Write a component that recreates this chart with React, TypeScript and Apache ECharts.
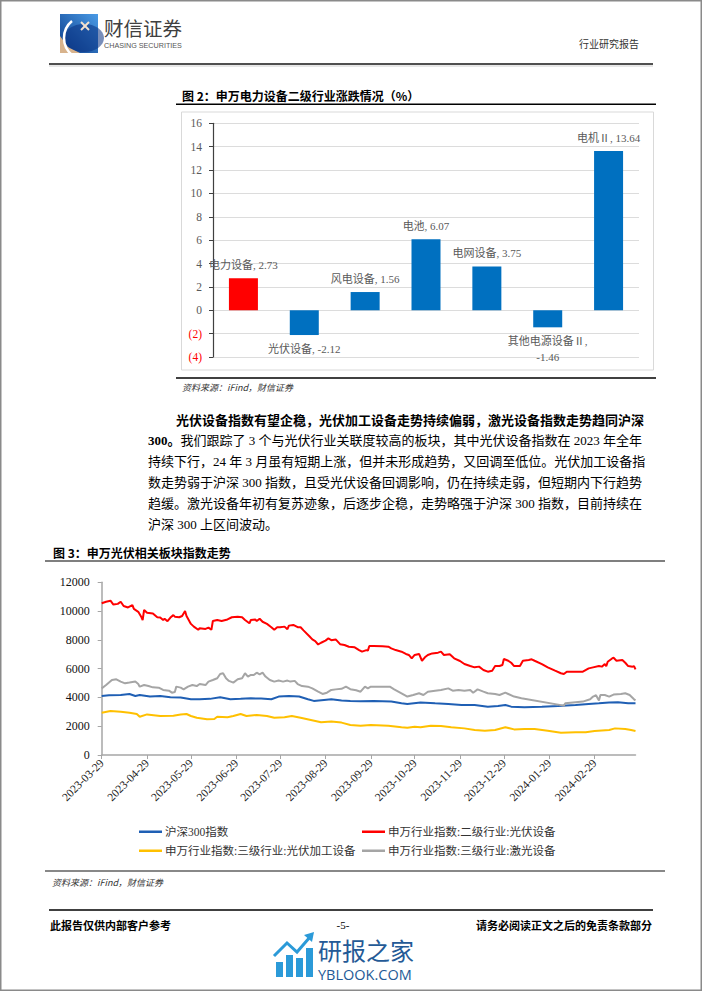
import React, { useEffect, useRef } from 'react';
import * as echarts from 'echarts';

const SERIF = "'Liberation Serif', 'Noto Sans CJK SC', serif";
const CJK = "'Noto Sans CJK SC', sans-serif";

// ---------- Figure 2 data ----------
const barCategories = ['电力设备', '光伏设备', '风电设备', '电池', '电网设备', '其他电源设备Ⅱ', '电机Ⅱ'];
const barValues = [2.73, -2.12, 1.56, 6.07, 3.75, -1.46, 13.64];
const barColors = ['#ff0000', '#0070c0', '#0070c0', '#0070c0', '#0070c0', '#0070c0', '#0070c0'];
const barAxisMin = -4;
const barAxisMax = 16;
const barAxisStep = 2;

// ---------- Figure 3 data ----------
const lineNames = [
  '沪深300指数',
  '申万行业指数:二级行业:光伏设备',
  '申万行业指数:三级行业:光伏加工设备',
  '申万行业指数:三级行业:激光设备',
];
const lineColors = ['#1f5fb4', '#ff0000', '#ffc000', '#a5a5a5'];
const dateStartUTC = Date.UTC(2023, 2, 29); // 2023-03-29
const dayCount = 366; // through 2024-03-28
const lineAxisMax = 12000;
const lineAxisStep = 2000;

// [day offset from 2023-03-29, index value]
const hs300: [number, number][] = [
  [0, 4100], [5, 4150], [13, 4170], [19, 4240], [23, 4100], [26, 4170], [33, 4060], [40, 4100], [47, 4010],
  [54, 3990], [61, 3870], [67, 3870], [74, 3900], [81, 4010], [88, 3870], [95, 3900], [102, 3940], [109, 3920],
  [116, 3870], [121, 4060], [128, 4100], [135, 4060], [141, 3870], [145, 3760], [152, 3830], [157, 3870],
  [164, 3780], [170, 3760], [177, 3740], [186, 3760], [198, 3710], [205, 3590], [209, 3550], [218, 3640],
  [228, 3590], [237, 3550], [246, 3480], [255, 3480], [264, 3360], [271, 3410], [276, 3480], [280, 3360],
  [289, 3310], [301, 3360], [312, 3410], [324, 3480], [333, 3550], [340, 3590], [347, 3640], [353, 3660],
  [360, 3590], [365, 3590],
];
const pvEquipment: [number, number][] = [
  [0, 10540], [3, 10650], [6, 10720], [8, 10450], [11, 10500], [13, 10650], [15, 10350], [18, 10250], [21, 10420],
  [22, 10150], [25, 9950], [27, 9610], [28, 9380], [29, 10080], [31, 9880], [35, 9840], [38, 9570], [40, 9550],
  [42, 9380], [43, 9470], [45, 9300], [47, 9550], [49, 9720], [50, 9610], [53, 9570], [55, 9660], [57, 10000],
  [58, 9660], [61, 9110], [63, 8920], [66, 8700], [67, 8810], [71, 8760], [73, 8850], [75, 8700], [76, 9310],
  [79, 9380], [82, 9310], [86, 9420], [89, 9570], [93, 9610], [96, 9570], [98, 9380], [101, 9150], [102, 9380],
  [105, 9420], [106, 9310], [108, 9470], [110, 9260], [113, 9110], [116, 8880], [118, 8700], [120, 8880],
  [122, 8880], [125, 8920], [127, 8740], [128, 8990], [131, 9040], [134, 8880], [136, 8880], [138, 8660],
  [142, 8250], [144, 8030], [146, 7910], [148, 7680], [150, 7800], [153, 7950], [155, 8100], [157, 7980],
  [160, 8030], [163, 7700], [166, 7640], [169, 7525], [173, 7480], [176, 7290], [178, 7180], [181, 7290],
  [182, 7250], [183, 7570], [186, 7570], [192, 7550], [196, 7525], [198, 7410], [201, 7290], [205, 7180],
  [208, 7020], [210, 6950], [212, 6710], [214, 6950], [217, 7020], [219, 6550], [221, 6790], [223, 6950],
  [226, 7060], [230, 7110], [232, 7180], [234, 6950], [238, 7000], [241, 6720], [245, 6530], [248, 6320],
  [252, 6180], [255, 6090], [258, 6140], [261, 5910], [264, 5790], [267, 5860], [269, 6180], [272, 6180],
  [274, 6250], [275, 6670], [278, 6550], [280, 6410], [282, 6180], [286, 6180], [288, 6550], [292, 6600],
  [294, 6650], [296, 6550], [301, 6320], [305, 6090], [310, 5860], [314, 5680], [316, 5630], [318, 5790],
  [324, 5790], [329, 5790], [333, 6020], [336, 6090], [340, 6180], [342, 6140], [344, 6320], [345, 6180],
  [346, 6480], [349, 6710], [350, 6760], [352, 6550], [356, 6600], [358, 6410], [360, 6180], [363, 6140],
  [364, 6180], [365, 5950],
];
const pvProcessing: [number, number][] = [
  [0, 2940], [6, 3060], [13, 3010], [19, 2940], [24, 2850], [26, 2660], [31, 2820], [40, 2710], [49, 2730],
  [54, 2820], [58, 2850], [61, 2710], [65, 2590], [72, 2480], [77, 2500], [79, 2660], [86, 2620], [90, 2710],
  [95, 2850], [99, 2710], [106, 2780], [113, 2710], [118, 2590], [125, 2620], [130, 2710], [136, 2590],
  [143, 2430], [150, 2270], [157, 2320], [164, 2250], [170, 2090], [177, 2040], [184, 2090], [196, 2040],
  [205, 1930], [209, 1900], [214, 1970], [218, 1930], [225, 2040], [232, 2020], [239, 1930], [248, 1850],
  [255, 1740], [262, 1690], [269, 1740], [276, 1930], [282, 1780], [289, 1810], [296, 1810], [305, 1690],
  [314, 1550], [324, 1580], [331, 1580], [337, 1670], [347, 1740], [351, 1850], [358, 1810], [362, 1740],
  [365, 1670],
];
const laserEquipment: [number, number][] = [
  [0, 4630], [3, 4860], [7, 5210], [10, 5260], [13, 5100], [16, 4980], [19, 5030], [23, 5100], [25, 4930],
  [26, 4750], [29, 4860], [32, 4790], [35, 4700], [39, 4680], [42, 4520], [46, 4470], [48, 4330], [50, 4380],
  [51, 4750], [54, 4680], [56, 4560], [59, 4750], [62, 4860], [65, 4790], [67, 4930], [71, 4860], [73, 5100],
  [76, 5210], [79, 5330], [81, 5630], [83, 5680], [85, 5330], [87, 5150], [90, 5030], [93, 5260], [96, 5330],
  [98, 5680], [100, 5450], [102, 5560], [104, 5560], [106, 5720], [108, 5610], [110, 5720], [112, 5450],
  [115, 5210], [118, 5100], [121, 5170], [124, 5100], [127, 5170], [129, 5100], [132, 5150], [134, 4930],
  [137, 4790], [141, 4750], [144, 4630], [148, 4400], [151, 4240], [154, 4330], [157, 4520], [160, 4560],
  [164, 4600], [167, 4750], [170, 4570], [174, 4500], [177, 4400], [180, 4750], [182, 4630], [184, 4750],
  [189, 4750], [197, 4750], [200, 4560], [205, 4290], [209, 4060], [213, 4170], [217, 4290], [220, 4170],
  [223, 4400], [228, 4470], [232, 4520], [237, 4630], [240, 4470], [244, 4520], [248, 4470], [252, 4520],
  [254, 4330], [257, 4560], [261, 4400], [264, 4290], [269, 4240], [272, 4170], [276, 4330], [278, 4240],
  [282, 4060], [287, 3940], [316, 3430], [317, 3590], [324, 3660], [329, 3710], [334, 3870], [336, 4060],
  [338, 4150], [340, 3780], [341, 4170], [344, 4170], [347, 4060], [350, 4200], [355, 4240], [358, 4290],
  [361, 4170], [364, 3870], [365, 3800],
];
const lineData = [hs300, pvEquipment, pvProcessing, laserEquipment];

// ---------- Page texts ----------
const headerBrand = '财信证券';
const headerBrandEn = 'CHASING SECURITIES';
const headerRight = '行业研究报告';
const fig2Title = '图 2：申万电力设备二级行业涨跌情况（%）';
const fig3Title = '图 3：申万光伏相关板块指数走势';
const sourceText = '资料来源：iFind，财信证券';
const paraLine1 = '光伏设备指数有望企稳，光伏加工设备走势持续偏弱，激光设备指数走势趋同沪深';
const paraLine2Bold = '300。';
const paraLine2 = '我们跟踪了 3 个与光伏行业关联度较高的板块，其中光伏设备指数在 2023 年全年';
const paraRest = [
  '持续下行，24 年 3 月虽有短期上涨，但并未形成趋势，又回调至低位。光伏加工设备指',
  '数走势弱于沪深 300 指数，且受光伏设备回调影响，仍在持续走弱，但短期内下行趋势',
  '趋缓。激光设备年初有复苏迹象，后逐步企稳，走势略强于沪深 300 指数，目前持续在',
  '沪深 300 上区间波动。',
];
const footerLeft = '此报告仅供内部客户参考';
const footerPage = '-5-';
const footerRight = '请务必阅读正文之后的免责条款部分';
const wmText = '研报之家';
const wmSub = 'YBLOOK.COM';

function buildDates(): string[] {
  const out: string[] = [];
  for (let i = 0; i < dayCount; i++) {
    out.push(new Date(dateStartUTC + i * 86400000).toISOString().slice(0, 10));
  }
  return out;
}

const txt = (x: number, y: number, text: string, o: any = {}) => ({
  type: 'text',
  x,
  y,
  silent: true,
  style: {
    text,
    fill: o.fill ?? '#000',
    fontSize: o.fontSize ?? 12,
    fontFamily: o.fontFamily ?? CJK,
    fontWeight: o.fontWeight ?? 'normal',
    fontStyle: o.fontStyle ?? 'normal',
    align: o.align ?? 'left',
    verticalAlign: 'middle',
    lineHeight: o.lineHeight,
    rich: o.rich,
  },
});
const ln = (x1: number, y1: number, x2: number, y2: number, stroke: string, lineWidth: number) => ({
  type: 'line',
  silent: true,
  shape: { x1, y1, x2, y2 },
  style: { stroke, lineWidth },
});

export default function App() {
  const ref = useRef<HTMLDivElement>(null);
  useEffect(() => {
    if (!ref.current) return;
    const chart = echarts.init(ref.current, undefined, { renderer: 'svg' });
    const dates = buildDates();
    const isMonthTick = (_i: number, v: string) => v.endsWith('-29');

    const graphics: any[] = [
      {
        type: 'rect', silent: true,
        shape: { x: 0.75, y: 0.75, width: 700.5, height: 989.5 },
        style: { fill: 'none', stroke: '#8a8a8a', lineWidth: 1.5 },
      },
      // logo
      {
        type: 'rect', silent: true, shape: { x: 60, y: 14, width: 38, height: 39 },
        style: {
          fill: new echarts.graphic.LinearGradient(1, 0, 0, 1, [
            { offset: 0, color: '#4a9be6' },
            { offset: 1, color: '#0a3a88' },
          ]),
        },
      },
      { type: 'polygon', silent: true, shape: { points: [[60, 36], [60, 53], [80, 53], [68, 47]] }, style: { fill: '#d8b38c' } },
      { type: 'ellipse', silent: true, shape: { cx: 84, cy: 38, rx: 20, ry: 14 }, style: { fill: 'rgba(10,50,130,0.55)' } },
      { type: 'arc', silent: true, shape: { cx: 86, cy: 38, r: 22, startAngle: Math.PI * 0.72, endAngle: Math.PI * 1.28 }, style: { stroke: '#ffffff', lineWidth: 2.5, fill: 'none' } },
      ln(81, 22, 89, 30, '#f4e2cf', 2),
      ln(89, 22, 81, 30, '#f4e2cf', 2),
      txt(104, 27, headerBrand, { fontSize: 19.5, fill: '#404040', lineHeight: 20 }),
      txt(104, 45.5, headerBrandEn, { fontSize: 7.2, fill: '#555', fontFamily: "'Liberation Sans', sans-serif", lineHeight: 8 }),
      txt(639, 43, headerRight, { fontSize: 10, fill: '#333', align: 'right' }),
      ln(49, 64, 653, 64, '#505050', 2),
      ln(49, 66, 653, 66, '#d0d0d0', 1),
      // figure 2 frame
      txt(182, 95, fig2Title, { fontSize: 12, fontWeight: 'bold' }),
      ln(176, 104.3, 656, 104.3, '#000', 1.5),
      {
        type: 'rect', silent: true, shape: { x: 181.5, y: 112, width: 472, height: 258 },
        style: { fill: 'none', stroke: '#d9d9d9', lineWidth: 1 },
      },
      ln(176, 378, 656, 378, '#000', 1.5),
      txt(182, 387, sourceText, { fontSize: 9, fontStyle: 'italic', fill: '#333' }),
      // paragraph
      txt(176, 419, paraLine1, { fontSize: 13, fontWeight: 'bold' }),
      txt(148, 440, `{b|${paraLine2Bold}}{n|${paraLine2}}`, {
        fontSize: 13,
        rich: {
          b: { fontSize: 13, fontWeight: 'bold', fontFamily: SERIF, fill: '#000' },
          n: { fontSize: 13, fontFamily: SERIF, fill: '#000' },
        },
      }),
      ...paraRest.map((t, i) => txt(148, 461 + i * 21, t, { fontSize: 13, fontFamily: SERIF })),
      // figure 3 frame
      txt(53, 552, fig3Title, { fontSize: 12, fontWeight: 'bold' }),
      ln(45, 561, 665, 561, '#7f7f7f', 2),
      ln(45, 871, 665, 871, '#606060', 1.5),
      txt(52, 882, sourceText, { fontSize: 9, fontStyle: 'italic', fill: '#333' }),
      // footer
      ln(49, 910, 653, 910, '#000', 1.5),
      txt(50, 925, footerLeft, { fontSize: 11, fontWeight: 'bold' }),
      txt(343, 925, footerPage, { fontSize: 11, fontFamily: SERIF, align: 'center' }),
      txt(652, 925, footerRight, { fontSize: 11, fontWeight: 'bold', align: 'right' }),
      // watermark
      { type: 'rect', silent: true, shape: { x: 276, y: 962, width: 7, height: 15 }, style: { fill: '#2b9ad8' } },
      { type: 'rect', silent: true, shape: { x: 286, y: 955, width: 7, height: 22 }, style: { fill: '#2b9ad8' } },
      { type: 'rect', silent: true, shape: { x: 296, y: 958, width: 7, height: 19 }, style: { fill: '#2b9ad8' } },
      { type: 'rect', silent: true, shape: { x: 306, y: 948, width: 7, height: 29 }, style: { fill: '#2b9ad8' } },
      { type: 'polyline', silent: true, shape: { points: [[274, 956], [287, 943], [297, 952], [310, 937]] }, style: { stroke: '#2b9ad8', lineWidth: 3, fill: 'none' } },
      { type: 'polygon', silent: true, shape: { points: [[304, 935], [314, 932], [312, 942]] }, style: { fill: '#2b9ad8' } },
      txt(318, 949, wmText, { fontSize: 24, fill: '#245a96', lineHeight: 24 }),
      txt(318, 974.5, wmSub, { fontSize: 14.5, fill: '#245a96', fontFamily: "'Open Sans', sans-serif", lineHeight: 15 }),
    ];

    const legendPos = [
      { left: 134, top: 821 },
      { left: 357, top: 821 },
      { left: 134, top: 840 },
      { left: 357, top: 840 },
    ];

    chart.setOption({
      animation: false,
      backgroundColor: '#ffffff',
      grid: [
        { left: 213, right: 63, top: 123.3, bottom: 634, containLabel: false },
        { left: 101.7, right: 66.5, top: 582.3, bottom: 236, containLabel: false },
      ],
      xAxis: [
        {
          type: 'category', gridIndex: 0, data: barCategories,
          axisLine: { show: false }, axisTick: { show: false }, axisLabel: { show: false },
        },
        {
          type: 'category', gridIndex: 1, data: dates, boundaryGap: false,
          axisLine: { lineStyle: { color: '#a6a6a6', width: 1.5 } },
          axisTick: { show: true, interval: isMonthTick, length: 4, lineStyle: { color: '#a6a6a6' } },
          axisLabel: {
            interval: isMonthTick, rotate: 45, fontSize: 11.5, fontFamily: SERIF, color: '#222', margin: 6,
          },
          splitLine: { show: false },
        },
      ],
      yAxis: [
        {
          type: 'value', gridIndex: 0, min: barAxisMin, max: barAxisMax, interval: barAxisStep,
          axisLine: { show: true, lineStyle: { color: '#404040', width: 1.2 } },
          axisTick: { show: true, length: 4, lineStyle: { color: '#404040' } },
          splitLine: { show: true, lineStyle: { color: '#dcdcdc', width: 1 } },
          axisLabel: {
            margin: 11,
            formatter: (v: number) => (v < 0 ? `{neg|(${-v})}` : `{pos|${v}}`),
            rich: {
              neg: { color: '#ff0000', fontSize: 11.5, fontFamily: SERIF },
              pos: { color: '#595959', fontSize: 11.5, fontFamily: SERIF },
            },
          },
        },
        {
          type: 'value', gridIndex: 1, min: 0, max: lineAxisMax, interval: lineAxisStep,
          axisLine: { show: true, lineStyle: { color: '#a6a6a6', width: 1.5 } },
          axisTick: { show: true, length: 4, lineStyle: { color: '#a6a6a6' } },
          splitLine: { show: false },
          axisLabel: { margin: 12, fontSize: 12, fontFamily: SERIF, color: '#111', formatter: (v: number) => String(v) },
        },
      ],
      legend: lineNames.map((name, i) => ({
        data: [name],
        left: legendPos[i].left,
        top: legendPos[i].top,
        icon: 'rect',
        itemWidth: 23,
        itemHeight: 2.5,
        itemGap: 4,
        textStyle: { fontSize: 11.5, fontFamily: SERIF, color: '#333', padding: [0, 0, 0, -2] },
        selectedMode: false,
      })),
      series: [
        {
          type: 'bar', xAxisIndex: 0, yAxisIndex: 0, barWidth: 29,
          data: barValues.map((v, i) => ({
            value: v,
            itemStyle: { color: barColors[i] },
            label: v < 0 ? { position: 'bottom', distance: 6 } : { position: 'top', distance: 5 },
          })),
          label: {
            show: true,
            color: '#595959',
            fontSize: 11,
            lineHeight: 16,
            fontFamily: SERIF,
            formatter: (p: any) => (p.name.length > 5 ? `${p.name},\n${p.value}` : `${p.name}, ${p.value}`),
          },
        },
        ...lineNames.map((name, i) => ({
          type: 'line', name, xAxisIndex: 1, yAxisIndex: 1,
          showSymbol: false, symbol: 'none',
          lineStyle: { color: lineColors[i], width: 2 },
          itemStyle: { color: lineColors[i] },
          data: lineData[i].map(([d, v]) => [dates[d], v]),
        })),
      ],
      graphic: { elements: graphics },
    });
    return () => chart.dispose();
  }, []);

  return <div ref={ref} style={{ position: 'absolute', left: 0, top: 0, width: 702, height: 991 }} />;
}
